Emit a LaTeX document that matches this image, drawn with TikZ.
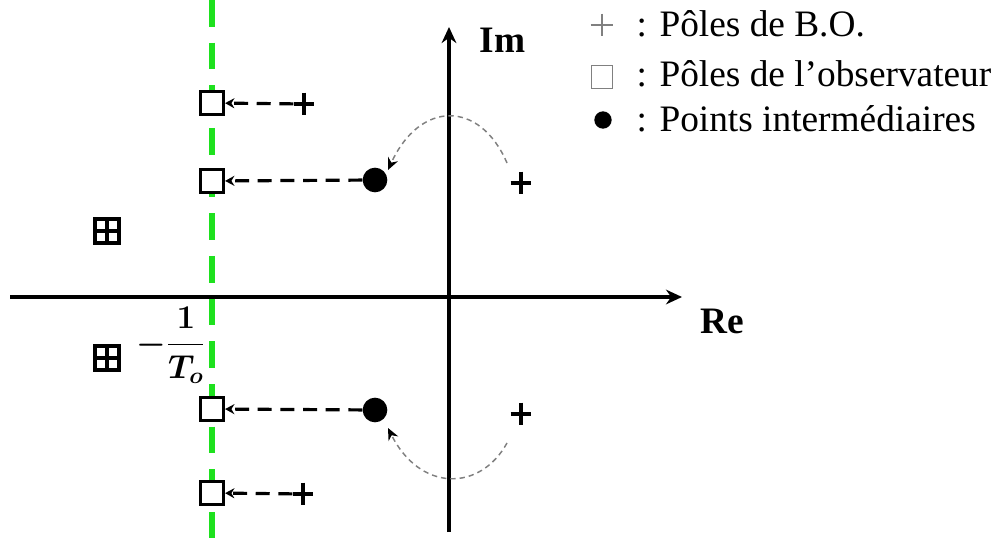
\documentclass[tikz,border=0pt]{standalone}
\usepackage{amsmath}
\usepackage{fontspec}
\setmainfont{Liberation Serif}
\usetikzlibrary{arrows.meta}

\definecolor{limitgreen}{RGB}{30,225,30}

\tikzset{
  obspole/.style={draw, line width=2.6pt, minimum size=17pt, inner sep=0pt, fill=white},
  bopole/.style={minimum width=15.5pt, minimum height=17pt, inner sep=0pt,
    path picture={\draw [line width=3.4pt] (path picture bounding box.north) -- (path picture bounding box.south)
      (path picture bounding box.west) -- (path picture bounding box.east);}},
  boxpole/.style={draw, line width=3pt, minimum size=18pt, inner sep=0pt,
    path picture={\draw [line width=2.6pt] (path picture bounding box.north) -- (path picture bounding box.south)
      (path picture bounding box.west) -- (path picture bounding box.east);}},
  midpoint/.style={circle, fill=black, minimum size=18.5pt, inner sep=0pt},
  dasharrow/.style={line width=2.4pt, dash pattern=on 10.5pt off 6.5pt, -{Stealth[length=7pt, width=7.5pt]}},
  arcarrow/.style={gray, line width=1.1pt, dash pattern=on 4pt off 3pt, -{Stealth[length=9pt, width=8pt, black]}},
  big/.style={font=\fontsize{28}{32}\selectfont}
}

\begin{document}
\begin{tikzpicture}[x=0.75pt, y=-0.75pt]
\useasboundingbox (0,0) rectangle (992,538);

%Axes

\coordinate (xl) at (10,297);
\coordinate (xr) at (682,297);
\coordinate (yb) at (449,532);
\coordinate (yt) at (449,27);
\draw [line width=3pt, -{Stealth[length=12pt, width=11pt]}] (xl) -- (xr);
\draw [line width=3pt, -{Stealth[length=12pt, width=11pt]}] (yb) -- (yt);
\node [big, font=\fontsize{28}{32}\selectfont\bfseries, anchor=base west] (im) at (475,53) {Im};
\node [big, font=\fontsize{28}{32}\selectfont\bfseries, anchor=base west] (re) at (696,333) {Re};

%Limit line

\coordinate (gt) at (212,0);
\coordinate (gb) at (212,538);
\draw [limitgreen, line width=4.5pt, dash pattern=on 20pt off 12pt] (gt) -- (gb);
\node [font=\fontsize{25}{28}\selectfont\boldmath] (lim) at (171,345) {$-\dfrac{1}{T_o}$};

%Poles

\node [obspole] (s1) at (212,103) {};
\node [obspole] (s2) at (212,181) {};
\node [obspole] (s3) at (212,409) {};
\node [obspole] (s4) at (212,493) {};

\node [bopole] (c1) at (304,104) {};
\node [bopole] (c2) at (521,183) {};
\node [bopole] (c3) at (521,414) {};
\node [bopole] (c4) at (303,494) {};

\node [midpoint] (d1) at (375,180) {};
\node [midpoint] (d2) at (375,410) {};

\node [boxpole] (b1) at (107,231) {};
\node [boxpole] (b2) at (107,358) {};

%Pole displacements

\draw [dasharrow] (c1) -- (s1);
\draw [dasharrow] (d1) -- (s2);
\draw [dasharrow] (d2) -- (s3);
\draw [dasharrow] (c4) -- (s4);

\coordinate (u1) at (507,163);
\coordinate (u2) at (388,170);
\coordinate (v1) at (507,443);
\coordinate (v2) at (388,428);
\draw [arcarrow] (u1) .. controls (480,100) and (420,100) .. (u2);
\draw [arcarrow] (v1) .. controls (480,492) and (420,492) .. (v2);

%Legend

\node [minimum size=17pt, inner sep=0pt, path picture={\draw [gray, line width=1.2pt]
  (path picture bounding box.north) -- (path picture bounding box.south)
  (path picture bounding box.west) -- (path picture bounding box.east);}] (k1) at (602,25) {};
\node [draw, gray, line width=1.2pt, minimum width=16pt, minimum height=17.5pt, inner sep=0pt] (k2) at (602,77) {};
\node [circle, fill=black, minimum size=13pt, inner sep=0pt] (k3) at (603,120) {};

\node [big, anchor=base west] (t1) at (632,37) {: Pôles de B.O.};
\node [big, anchor=base west] (t2) at (632,87) {: Pôles de l’observateur};
\node [big, anchor=base west] (t3) at (632,132) {: Points intermédiaires};

\end{tikzpicture}
\end{document}
